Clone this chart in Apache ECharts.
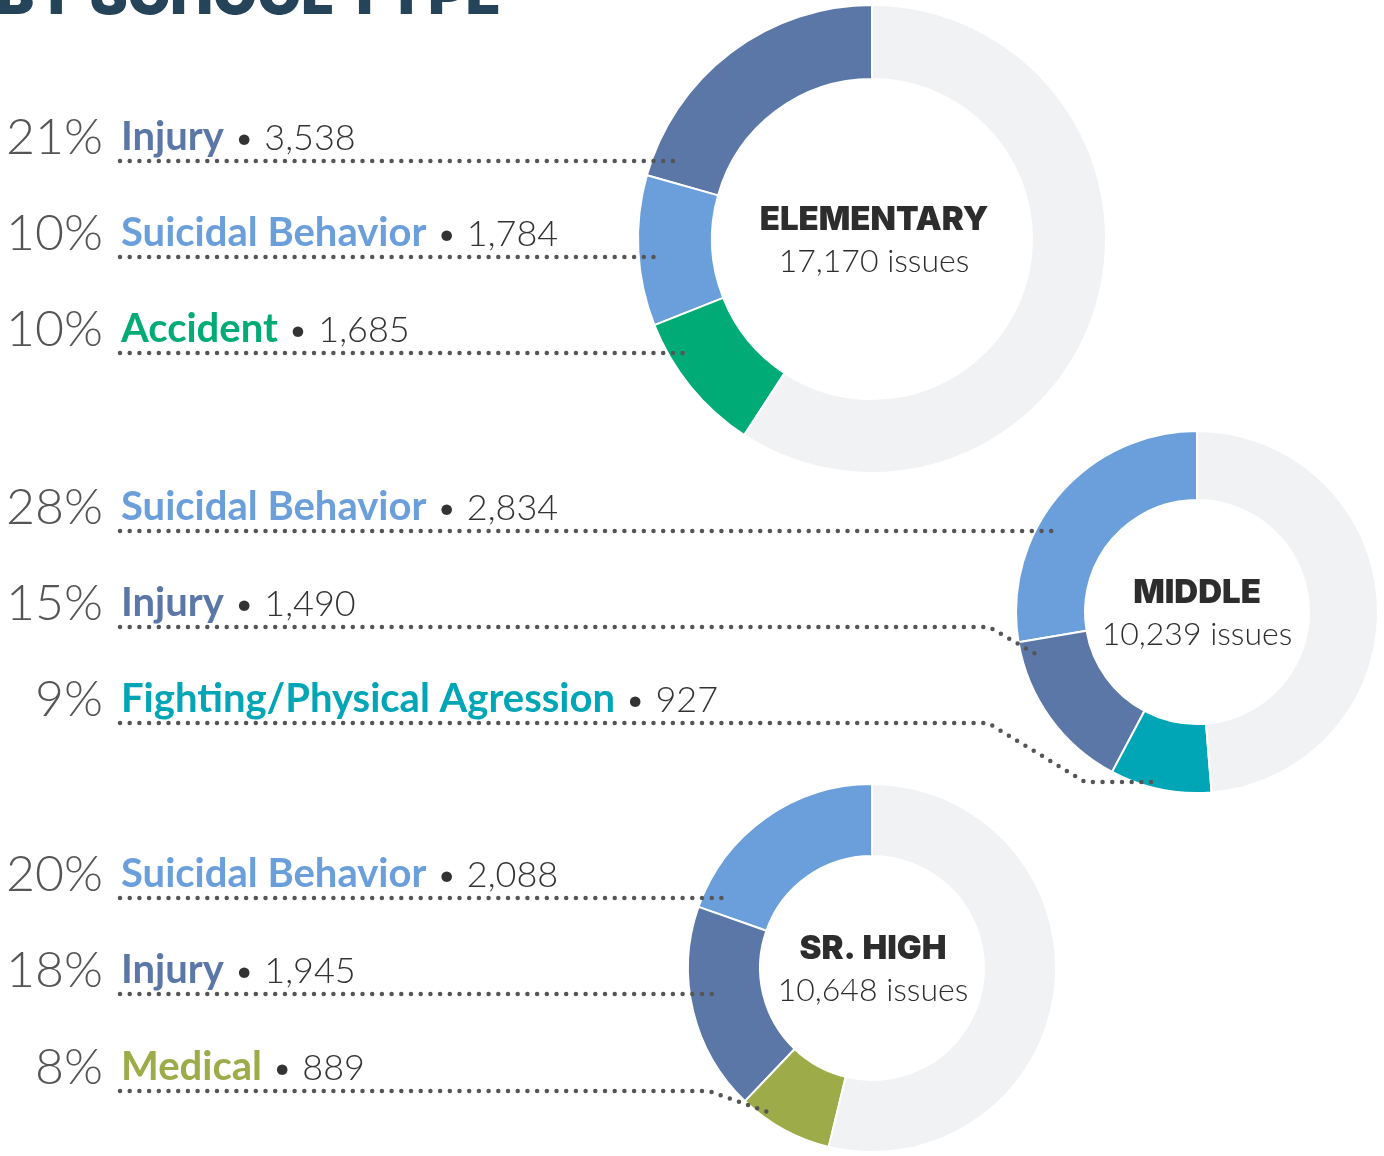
<!DOCTYPE html>
<html>
<head>
<meta charset="utf-8">
<script src="https://cdn.jsdelivr.net/npm/echarts@6/dist/echarts.min.js"></script>
<style>
  html, body { margin: 0; padding: 0; background: #fff; }
  #chart { width: 1384px; height: 1156px; }
</style>
</head>
<body>
<div id="chart"></div>
<script>
// data
const schools = ["ELEMENTARY", "MIDDLE", "SR. HIGH"];
const schoolTotals = [17170, 10239, 10648];

const elemCats = ["Injury", "Suicidal Behavior", "Accident"];
const elemVals = [3538, 1784, 1685];

const middleCats = ["Suicidal Behavior", "Injury", "Fighting/Physical Agression"];
const middleVals = [2834, 1490, 927];

const srCats = ["Suicidal Behavior", "Injury", "Medical"];
const srVals = [2088, 1945, 889];

const catColors = {
  "Injury": "#5b77a7",
  "Suicidal Behavior": "#6a9fdb",
  "Accident": "#00ab76",
  "Fighting/Physical Agression": "#00a6b5",
  "Medical": "#9dab48"
};
const restColor = "#f1f2f4";

// layout
const pies = [
  { center: [872, 239], radius: [160, 234], rows: [161, 257, 353], textDx: 2 },
  { center: [1197, 612], radius: [112, 181], rows: [531, 627, 723], textDx: 0 },
  { center: [872, 968], radius: [112, 184], rows: [898, 994, 1091], textDx: 1 }
];
// leader lines (dotted), per pie per row
const leaders = [
  [[[120, 161], [675, 161]], [[120, 257], [662, 257]], [[120, 353], [690, 353]]],
  [[[120, 531], [1058, 531]], [[120, 627], [989, 627], [1039, 656]], [[120, 723], [988, 723], [1085, 782], [1160, 782]]],
  [[[120, 898], [726, 898]], [[120, 994], [713, 994]], [[120, 1091], [709, 1091], [773, 1114]]]
];

const allCats = [elemCats, middleCats, srCats];
const allVals = [elemVals, middleVals, srVals];

const fmt = (n) => n.toLocaleString("en-US");

const chart = echarts.init(document.getElementById("chart"));

const series = [];
const graphic = [];

graphic.push({
  type: "text",
  left: -4,
  top: -32,
  style: {
    text: "BY SCHOOL TYPE",
    font: "900 57px Inter",
    fill: "#264459"
  }
});

allCats.forEach((cats, i) => {
  const vals = allVals[i];
  const total = schoolTotals[i];
  const shown = vals.reduce((a, b) => a + b, 0);
  const data = cats.map((c, k) => ({
    name: c,
    value: vals[k],
    itemStyle: { color: catColors[c] }
  }));
  data.push({ name: "Other", value: total - shown, itemStyle: { color: restColor } });

  series.push({
    type: "pie",
    center: pies[i].center,
    radius: pies[i].radius,
    startAngle: 90,
    clockwise: false,
    silent: true,
    label: { show: false },
    labelLine: { show: false },
    itemStyle: { borderColor: "#fff", borderWidth: 2 },
    data: data
  });

  // centre text
  const [cx, cy] = pies[i].center;
  graphic.push({
    type: "text",
    x: cx + pies[i].textDx,
    y: cy - 2,
    z: 10,
    style: {
      text: schools[i],
      font: "900 33px Inter",
      fill: "#2d2d2d",
      align: "center",
      verticalAlign: "bottom"
    }
  });
  graphic.push({
    type: "text",
    x: cx + pies[i].textDx,
    y: cy + 39,
    z: 10,
    style: {
      text: fmt(total) + " issues",
      font: "300 32px Lato",
      fill: "#2d2d2d",
      align: "center",
      verticalAlign: "bottom"
    }
  });

  cats.forEach((c, k) => {
    const rowY = pies[i].rows[k];
    const pct = Math.round((vals[k] / total) * 100);
    graphic.push({
      type: "text",
      x: 103,
      y: rowY + 2,
      z: 10,
      style: {
        text: pct + "%",
        font: "300 50px Lato",
        fill: "#555555",
        align: "right",
        verticalAlign: "bottom"
      }
    });
    graphic.push({
      type: "text",
      x: 121,
      y: rowY - 4,
      z: 10,
      style: {
        text: "{c|" + c + "}{n| • " + fmt(vals[k]) + "}",
        verticalAlign: "bottom",
        rich: {
          c: { font: "bold 40px Lato", fill: catColors[c], verticalAlign: "bottom" },
          n: { font: "300 36px Lato", fill: "#333333", verticalAlign: "bottom", padding: [0, 0, 1, 0] }
        }
      }
    });
    graphic.push({
      type: "polyline",
      z: 20,
      silent: true,
      shape: { points: leaders[i][k] },
      style: {
        stroke: "#555555",
        lineWidth: 4.5,
        lineDash: [0, 9.7],
        lineCap: "round",
        fill: null
      }
    });
  });
});

chart.setOption({
  animation: false,
  backgroundColor: "#ffffff",
  series: series,
  graphic: graphic
});
</script>
</body>
</html>
